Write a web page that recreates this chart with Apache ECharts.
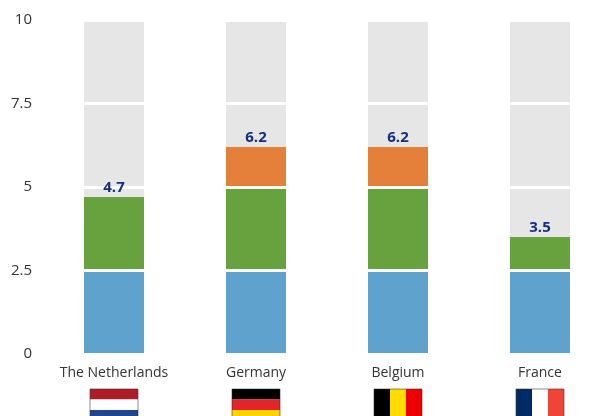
<!DOCTYPE html>
<html>
<head>
<meta charset="utf-8">
<style>html,body{margin:0;padding:0;background:#fff}#chart{width:594px;height:416px}</style>
<script src="https://cdn.jsdelivr.net/npm/echarts@6/dist/echarts.min.js"></script>
</head>
<body>
<div id="chart"></div>
<script>
// Stacked score bars per country, out of a maximum of 10
const countries = ['The Netherlands', 'Germany', 'Belgium', 'France'];
const baseScore = [2.5, 2.5, 2.5, 2.5];
const midScore = [2.2, 2.5, 2.5, 1.0];
const topScore = [0, 1.2, 1.2, 0];
const remainder = [5.3, 3.8, 3.8, 6.5];
const totals = [4.7, 6.2, 6.2, 3.5];
const yTicks = ['0', '2.5', '5', '7.5', '10'];

// Flag stripes shown beneath each country name
const flagStripes = [
  ['#ae1c28', '#ffffff', '#21468b'],
  ['#000000', '#e5232a', '#ffd200'],
  ['#000000', '#ffdd00', '#ee0000'],
  ['#002b66', '#ffffff', '#f04438']
];
const flagIsVertical = [false, false, true, true];

const chart = echarts.init(document.getElementById('chart'), null, { renderer: 'canvas' });
const fontFamily = '"Open Sans", sans-serif';

function stackBar(name, values, color) {
  return {
    name, type: 'bar', stack: 'score', data: values, barWidth: 60, z: 2,
    itemStyle: { color }, silent: true
  };
}

function renderFlag(params, api) {
  const index = api.value(0);
  const cx = api.coord([index, 0])[0];
  const axisY = api.coord([index, 0])[1];
  const w = 48, stripeH = 10.5, top = axisY + 35;
  const h = stripeH * 3;
  const stripes = flagStripes[index];
  const children = stripes.map((color, i) => ({
    type: 'rect',
    shape: flagIsVertical[index]
      ? { x: cx - w / 2 + i * w / 3, y: top, width: w / 3, height: h }
      : { x: cx - w / 2, y: top + i * stripeH, width: w, height: stripeH },
    style: { fill: color }
  }));
  children.push({
    type: 'rect',
    shape: { x: cx - w / 2, y: top, width: w, height: h },
    style: { fill: 'none', stroke: 'rgba(60,40,40,0.55)', lineWidth: 1 }
  });
  return { type: 'group', children };
}

chart.setOption({
  animation: false,
  backgroundColor: '#ffffff',
  grid: { left: 43, width: 568, top: 20, height: 334, outerBoundsMode: 'none', containLabel: false },
  xAxis: {
    type: 'category',
    data: countries,
    axisTick: { show: false },
    axisLine: { show: true, lineStyle: { color: '#eeeeee', width: 1 } },
    axisLabel: { color: '#333333', fontFamily, fontSize: 14, margin: 12, interval: 0 }
  },
  yAxis: {
    type: 'value',
    min: 0,
    max: 10,
    interval: 2.5,
    z: 3,
    axisLine: { show: false },
    axisTick: { show: false },
    splitLine: { show: true, lineStyle: { color: '#ffffff', width: 3 } },
    axisLabel: {
      color: '#333333', fontFamily, fontSize: 15, margin: 11,
      formatter: (v) => yTicks[Math.round(v / 2.5)]
    }
  },
  series: [
    stackBar('Base', baseScore, '#5fa2cd'),
    stackBar('Middle', midScore, '#68a23f'),
    stackBar('Top', topScore, '#e5803a'),
    stackBar('Remainder', remainder, '#e6e6e6'),
    {
      name: 'Total',
      type: 'scatter',
      data: totals,
      symbolSize: 0,
      z: 5,
      silent: true,
      itemStyle: { opacity: 1 },
      label: {
        show: true,
        position: 'top',
        distance: 2,
        color: '#12307f',
        fontFamily,
        fontWeight: 700,
        fontSize: 15,
        opacity: 1,
        formatter: (p) => p.value.toFixed(1)
      }
    },
    {
      name: 'Flags',
      type: 'custom',
      data: countries.map((c, i) => [i, 0]),
      encode: { x: 0, y: 1 },
      renderItem: renderFlag,
      clip: false,
      silent: true,
      z: 6
    }
  ]
});
</script>
</body>
</html>
